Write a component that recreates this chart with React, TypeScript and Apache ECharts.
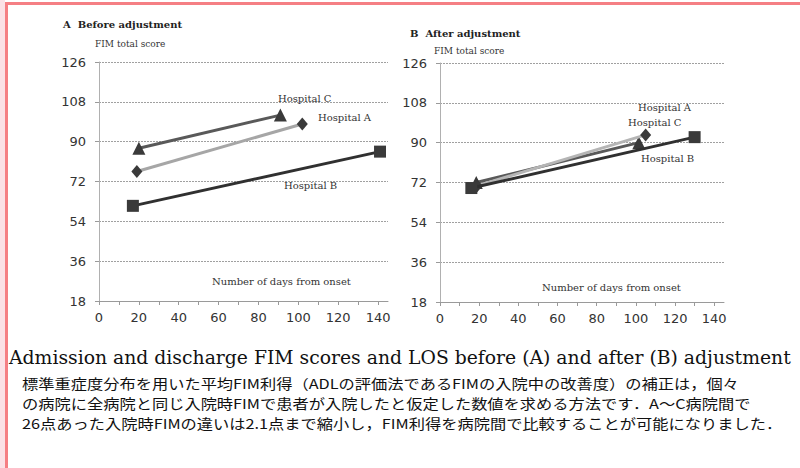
import React, { useEffect, useRef } from "react";
import * as echarts from "echarts";

const xLabelTicks = [0, 20, 40, 60, 80, 100, 120, 140];
const xMinorTicks = [0, 10, 20, 30, 40, 50, 60, 70, 80, 90, 100, 110, 120, 130, 140];

// Panel A: before adjustment  [days from onset, FIM total score]
const beforeHospA: number[][] = [[19, 76.5], [102, 98]];
const beforeHospB: number[][] = [[17, 61], [141, 85.5]];
const beforeHospC: number[][] = [[20, 87], [91, 102]];

// Panel B: after adjustment
const afterHospA: number[][] = [[19, 70.5], [105, 93.5]];
const afterHospB: number[][] = [[16, 69.5], [130, 92.5]];
const afterHospC: number[][] = [[18.5, 72], [101.5, 90]];

const serif = "DejaVu Serif";
const sans = "DejaVu Sans";

const jpLines = [
  "標準重症度分布を用いた平均FIM利得（ADLの評価法であるFIMの入院中の改善度）の補正は，個々",
  "の病院に全病院と同じ入院時FIMで患者が入院したと仮定した数値を求める方法です．A～C病院間で",
  "26点あった入院時FIMの違いは2.1点まで縮小し，FIM利得を病院間で比較することが可能になりました．",
];

function xAxisCfg(gridIndex: number) {
  return {
    type: "value",
    gridIndex,
    min: 0,
    max: 145,
    axisLine: { show: true, lineStyle: { color: "#9a9a9a", width: 1 } },
    axisTick: { show: true, customValues: xMinorTicks, length: 4, inside: false, lineStyle: { color: "#9a9a9a" } },
    axisLabel: { customValues: xLabelTicks, margin: 10, color: "#333", fontFamily: sans, fontSize: 13 },
    splitLine: { show: false },
  };
}

function yAxisCfg(gridIndex: number) {
  return {
    type: "value",
    gridIndex,
    min: 18,
    max: 126,
    interval: 18,
    axisLine: { show: true, lineStyle: { color: "#b0b0b0", width: 1 } },
    axisTick: { show: true, length: 4, lineStyle: { color: "#9a9a9a" } },
    axisLabel: { margin: 13, color: "#333", fontFamily: sans, fontSize: 13 },
    splitLine: { show: true, lineStyle: { color: "#a0a0a0", type: [2, 1], width: 1 } },
  };
}

function mkSeries(name: string, data: number[][], idx: number, symbol: string, size: any, lineColor: string, markColor: string, z: number) {
  return {
    name,
    type: "line",
    xAxisIndex: idx,
    yAxisIndex: idx,
    data,
    symbol,
    symbolSize: size,
    showSymbol: true,
    lineStyle: { color: lineColor, width: 3 },
    itemStyle: { color: markColor },
    z,
  };
}

function txt(text: string, x: number, y: number, fontSize: number, opts: any = {}) {
  return {
    type: "text",
    x,
    y,
    scaleX: opts.scaleX || 1,
    style: {
      text,
      fontSize,
      fontFamily: opts.fontFamily || serif,
      fontWeight: opts.fontWeight || "normal",
      fill: opts.fill || "#333",
      textVerticalAlign: "middle",
      textAlign: opts.align || "left",
    },
  };
}

export default function App() {
  const ref = useRef<HTMLDivElement>(null);
  useEffect(() => {
    if (!ref.current) return;
    const chart = echarts.init(ref.current, null, { renderer: "svg" });
    const jp = { fontFamily: "Noto Sans CJK JP", fill: "#111", scaleX: 1.178 };
    chart.setOption({
      animation: false,
      backgroundColor: "#ffffff",
      grid: [
        { left: 99, top: 62, width: 289, height: 239 },
        { left: 440, top: 63, width: 284, height: 239 },
      ],
      xAxis: [xAxisCfg(0), xAxisCfg(1)],
      yAxis: [yAxisCfg(0), yAxisCfg(1)],
      series: [
        mkSeries("Hospital A", beforeHospA, 0, "diamond", [11, 13], "#a6a6a6", "#3a3a3a", 3),
        mkSeries("Hospital B", beforeHospB, 0, "rect", 12, "#303030", "#3a3a3a", 3),
        mkSeries("Hospital C", beforeHospC, 0, "triangle", 13, "#595959", "#3a3a3a", 3),
        mkSeries("Hospital C", afterHospC, 1, "triangle", 13, "#595959", "#3a3a3a", 3),
        mkSeries("Hospital A", afterHospA, 1, "diamond", [11, 13], "#b5b5b5", "#3a3a3a", 4),
        mkSeries("Hospital B", afterHospB, 1, "rect", 12, "#303030", "#3a3a3a", 5),
      ],
      graphic: [
        { type: "rect", shape: { x: 0, y: 0, width: 5, height: 468 }, style: { fill: "#fbe1e6" }, silent: true },
        { type: "rect", shape: { x: 5, y: 2, width: 795, height: 3 }, style: { fill: "#f57f84" }, silent: true },
        { type: "rect", shape: { x: 5, y: 2, width: 3, height: 466 }, style: { fill: "#f57f84" }, silent: true },
        txt("A  Before adjustment", 63, 24, 10, { fontWeight: "bold", fill: "#222" }),
        txt("FIM total score", 95, 44, 9),
        txt("B  After adjustment", 410, 33, 10, { fontWeight: "bold", fill: "#222" }),
        txt("FIM total score", 434, 51, 9),
        txt("Hospital C", 278, 98, 10),
        txt("Hospital A", 318, 117, 10),
        txt("Hospital B", 284, 185, 10),
        txt("Number of days from onset", 212, 281, 10),
        txt("Hospital A", 638, 107, 10),
        txt("Hospital C", 628, 122, 10),
        txt("Hospital B", 641, 158, 10),
        txt("Number of days from onset", 542, 287, 10),
        txt("Admission and discharge FIM scores and LOS before (A) and after (B) adjustment", 9, 357, 18.8, { fill: "#111" }),
        txt(jpLines[0], 22, 383, 13.8, jp),
        txt(jpLines[1], 22, 403, 13.8, jp),
        txt(jpLines[2], 22, 423, 13.8, jp),
      ],
    });
    return () => chart.dispose();
  }, []);
  return (
    <div
      ref={ref}
      style={{ position: "absolute", left: 0, top: 0, width: 800, height: 468 }}
    />
  );
}
